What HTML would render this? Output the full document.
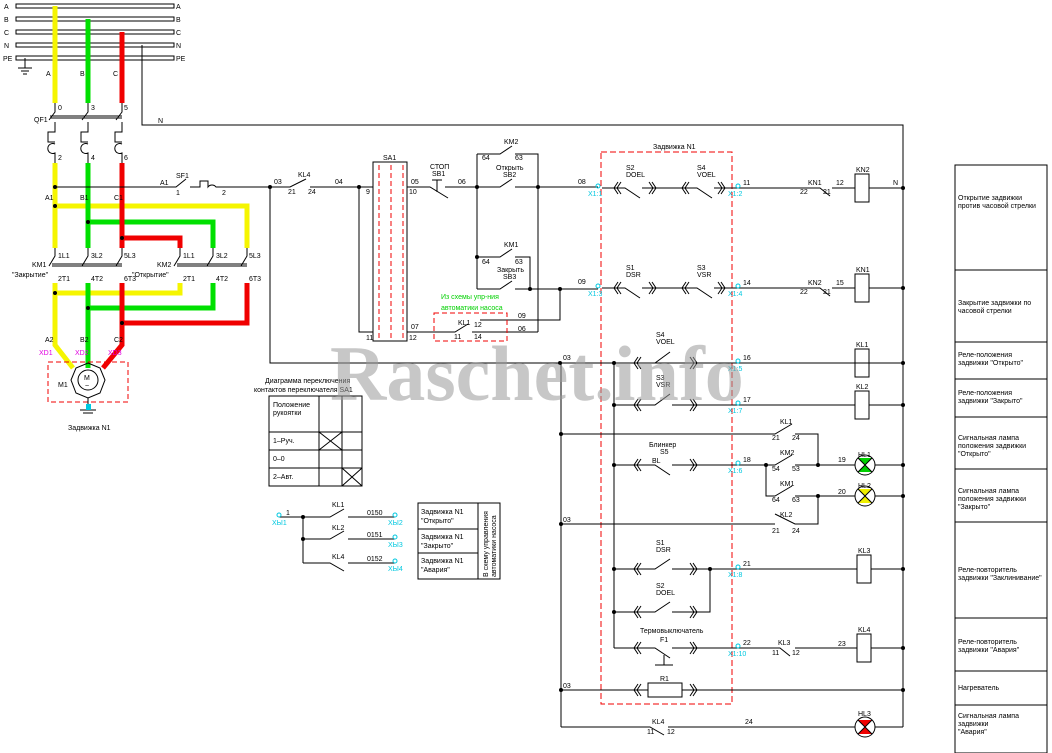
<!DOCTYPE html>
<html><head><meta charset="utf-8"><style>
html,body{margin:0;padding:0;background:#fff}
svg{display:block}
text{font-family:"Liberation Sans","DejaVu Sans",sans-serif;font-size:7px;fill:#000}
.c{fill:#00c8e0}.m{fill:#e000e0}.g{fill:#00d000}
</style></head><body>
<svg width="1052" height="753" viewBox="0 0 1052 753" xmlns="http://www.w3.org/2000/svg">
<g stroke="#000" stroke-width="1" fill="none">
<!-- buses -->
<rect x="16" y="4" width="158" height="4"/><rect x="16" y="17" width="158" height="4"/><rect x="16" y="30" width="158" height="4"/><rect x="16" y="43" width="158" height="4"/><rect x="16" y="56" width="158" height="4"/>
<path d="M25 58V68M18 68H32M21 71H29M23 74H27"/>
<path d="M142 45V125H903V727"/>
</g>
<g font-size="7">
<text x="4" y="9">A</text><text x="4" y="22">B</text><text x="4" y="35">C</text><text x="4" y="48">N</text><text x="3" y="61">PE</text>
<text x="176" y="9">A</text><text x="176" y="22">B</text><text x="176" y="35">C</text><text x="176" y="48">N</text><text x="176" y="61">PE</text>
<text x="46" y="76">A</text><text x="80" y="76">B</text><text x="113" y="76">C</text><text x="158" y="123">N</text>
</g>
<!-- phase colors -->
<g stroke-width="5" fill="none">
<path stroke="#f5f500" d="M55 6V103M55 163V248M55 206H247V248M180 283V293H55M55 283V345L73 368"/>
<path stroke="#00e000" d="M88 19V103M88 163V248M88 222H213V248M213 283V308H88M88 283V368"/>
<path stroke="#f00000" d="M122 32V103M122 163V248M122 238H180V248M247 283V323H122M122 283V345L103 368"/>
</g>
<g stroke="#000" stroke-width="1" fill="none">
<!-- QF1 -->
<path d="M55 103V112L49 120M55 122V132H48V142H55M55 144A5 5 0 1 0 55 153V163"/>
<path d="M88 103V112L82 120M88 122V132H81V142H88M88 144A5 5 0 1 0 88 153V163"/>
<path d="M122 103V112L116 120M122 122V132H115V142H122M122 144A5 5 0 1 0 122 153V163"/>
<path d="M50 116H122M50 118H122"/>
<!-- KM contacts -->
<path d="M55 248V256L49 266M88 248V256L82 266M122 248V256L116 266M180 248V256L174 266M213 248V256L207 266M247 248V256L241 266"/>
<path d="M52 264H122M52 266H122M177 264H247M177 266H247"/>
<!-- motor -->
<rect x="48" y="362" width="80" height="40" stroke="#f00000" stroke-dasharray="5,3"/>
<path d="M88 363L100 368L105 380L100 393L88 398L76 393L71 380L76 368Z"/>
<circle cx="88" cy="380" r="10"/>
<path d="M88 398V410M80 410H96M83 413H93"/>
<!-- SF1 line -->
<path d="M55 187H176L186 179M190 187H200V181H208V187A5 5 0 0 1 216 187H270M270 187V363H903M270 187H290L306 179M310 187H373"/>
<path d="M359 187V332H373"/>
<rect x="373" y="162" width="34" height="179"/>
<path d="M379 165V341M391 165V341M403 165V341" stroke="#f00000" stroke-dasharray="5,3"/>
<path d="M407 187H430L448 198M445 187H477M437 180V192M432 180H442M437 176H437"/>
<path d="M477 154H500L512 146M515 154H538V332M477 154V289M477 187H500L512 179M515 187H598M477 257H500L512 249M515 257H530V289M477 289H500L512 281M515 289H598"/>
<path d="M560 289V320H480M407 332H455L468 324M472 332H538"/>
<rect x="434" y="313" width="73" height="28" stroke="#f00000" stroke-dasharray="5,3"/>
<!-- right area -->
<rect x="601" y="152" width="131" height="552" stroke="#f00000" stroke-dasharray="6,3"/>
<path d="M602 188H625L640 198M642 188H697L712 198M714 188H820L830 196M832 188H855M869 188H903"/>
<rect x="855" y="174" width="14" height="28"/>
<path d="M602 288H625L640 298M642 288H697L712 298M714 288H820L830 296M832 288H855M869 288H903"/>
<rect x="855" y="274" width="14" height="28"/>
<path d="M560 363H655L670 352M672 363H855M869 363"/>
<rect x="855" y="349" width="14" height="28"/>
<path d="M614 363V648M614 405H655L670 394M672 405H855M869 405H903"/>
<rect x="855" y="391" width="14" height="28"/>
<path d="M561 363V727M561 434H775L792 424M795 434H818V465M614 465H655L670 475M672 465H775L792 455M795 465H855M875 465H903M766 465V496H775L792 486M795 496H855M875 496H903M818 496V524H795L775 514M775 524H561"/>
<path d="M614 569H655L670 559M672 569H857M871 569H903M614 612H655L670 602M672 612H710V569"/>
<rect x="857" y="555" width="14" height="28"/>
<path d="M614 648H655L670 658M672 648H780L790 656M795 648H857M871 648H903M664 655V665H655M664 665H673"/>
<rect x="857" y="634" width="14" height="28"/>
<path d="M561 690H648M682 690H903"/><rect x="648" y="683" width="34" height="14"/>
<path d="M561 727H650L664 735M668 727H855M875 727H903"/>
<!-- chevrons -->
<g>
<path d="M618 182L614 188L618 194M621 182L617 188L621 194M649 182L653 188L649 194M652 182L656 188L652 194M686 182L682 188L686 194M689 182L685 188L689 194M718 182L722 188L718 194M721 182L725 188L721 194"/>
<path d="M618 282L614 288L618 294M621 282L617 288L621 294M649 282L653 288L649 294M652 282L656 288L652 294M686 282L682 288L686 294M689 282L685 288L689 294M718 282L722 288L718 294M721 282L725 288L721 294"/>
<path d="M638 357L634 363L638 369M641 357L637 363L641 369M690 357L694 363L690 369M693 357L697 363L693 369"/>
<path d="M638 399L634 405L638 411M641 399L637 405L641 411M690 399L694 405L690 411M693 399L697 405L693 411"/>
<path d="M638 459L634 465L638 471M641 459L637 465L641 471M690 459L694 465L690 471M693 459L697 465L693 471"/>
<path d="M638 563L634 569L638 575M641 563L637 569L641 575M690 563L694 569L690 575M693 563L697 569L693 575"/>
<path d="M638 606L634 612L638 618M641 606L637 612L641 618M690 606L694 612L690 618M693 606L697 612L693 618"/>
<path d="M638 642L634 648L638 654M641 642L637 648L641 654M690 642L694 648L690 654M693 642L697 648L693 654"/>
<path d="M638 684L634 690L638 696M641 684L637 690L641 696M690 684L694 690L690 696M693 684L697 690L693 696"/>
</g>
<!-- lamps -->
<circle cx="865" cy="465" r="10"/><circle cx="865" cy="496" r="10"/><circle cx="865" cy="727" r="10"/>
<!-- table -->
<rect x="269" y="396" width="93" height="90"/>
<path d="M269 432H362M269 450H362M269 468H362M319 396V486M342 396V486M319 432L342 450M342 432L319 450M342 468L362 486M362 468L342 486"/>
<!-- bottom-left -->
<path d="M279 517H330L344 509M348 517H395M303 517V563M303 539H330L344 531M348 539H395M303 563H330L344 571M348 563H395"/>
<rect x="418" y="503" width="82" height="76"/><path d="M478 503V579M418 529H478M418 553H478"/>
<!-- right panel -->
<rect x="955" y="165" width="92" height="588"/>
<path d="M955 270H1047M955 342H1047M955 379H1047M955 417H1047M955 469H1047M955 522H1047M955 618H1047M955 671H1047M955 705H1047"/>
</g>
<!-- lamp fills -->
<path d="M858 458L872 458L865 465Z M858 472L872 472L865 465Z" fill="#00d000"/>
<path d="M858 489L872 489L865 496Z M858 503L872 503L865 496Z" fill="#f0f000"/>
<path d="M858 720L872 720L865 727Z M858 734L872 734L865 727Z" fill="#f00000"/>
<path d="M858 458L872 472M872 458L858 472M858 489L872 503M872 489L858 503M858 720L872 734M872 720L858 734" stroke="#000"/>
<!-- dots -->
<g fill="#000">
<circle cx="55" cy="187" r="2"/><circle cx="55" cy="206" r="2"/><circle cx="88" cy="222" r="2"/><circle cx="122" cy="238" r="2"/><circle cx="55" cy="293" r="2"/><circle cx="88" cy="308" r="2"/><circle cx="122" cy="323" r="2"/>
<circle cx="270" cy="187" r="2"/><circle cx="359" cy="187" r="2"/><circle cx="477" cy="187" r="2"/><circle cx="538" cy="187" r="2"/><circle cx="477" cy="257" r="2"/><circle cx="530" cy="289" r="2"/><circle cx="560" cy="289" r="2"/><circle cx="560" cy="363" r="2"/>
<circle cx="903" cy="188" r="2"/><circle cx="903" cy="288" r="2"/><circle cx="903" cy="363" r="2"/><circle cx="903" cy="405" r="2"/><circle cx="903" cy="465" r="2"/><circle cx="903" cy="496" r="2"/><circle cx="903" cy="569" r="2"/><circle cx="903" cy="648" r="2"/><circle cx="903" cy="690" r="2"/>
<circle cx="614" cy="363" r="2"/><circle cx="614" cy="405" r="2"/><circle cx="561" cy="434" r="2"/><circle cx="614" cy="465" r="2"/><circle cx="766" cy="465" r="2"/><circle cx="818" cy="465" r="2"/><circle cx="818" cy="496" r="2"/><circle cx="561" cy="524" r="2"/><circle cx="614" cy="569" r="2"/><circle cx="710" cy="569" r="2"/><circle cx="614" cy="612" r="2"/><circle cx="561" cy="690" r="2"/><circle cx="303" cy="517" r="2"/><circle cx="303" cy="539" r="2"/>
</g>
<!-- cyan terminal circles -->
<g stroke="#00c8e0" fill="none">
<circle cx="598" cy="186" r="2"/><circle cx="738" cy="186" r="2"/><circle cx="598" cy="286" r="2"/><circle cx="738" cy="286" r="2"/><circle cx="738" cy="361" r="2"/><circle cx="738" cy="403" r="2"/><circle cx="738" cy="463" r="2"/><circle cx="738" cy="567" r="2"/><circle cx="738" cy="646" r="2"/>
<circle cx="279" cy="515" r="2"/><circle cx="395" cy="515" r="2"/><circle cx="395" cy="537" r="2"/><circle cx="395" cy="561" r="2"/>
</g>
<rect x="86" y="404" width="5" height="6" fill="#00c8e0"/>
<!-- labels -->
<g font-size="6">
<text x="34" y="122">QF1</text><text x="58" y="110">0</text><text x="91" y="110">3</text><text x="124" y="110">5</text>
<text x="58" y="160">2</text><text x="91" y="160">4</text><text x="124" y="160">6</text>
<text x="45" y="200">A1</text><text x="80" y="200">B1</text><text x="114" y="200">C1</text>
<text x="45" y="342">A2</text><text x="80" y="342">B2</text><text x="114" y="342">C2</text>
<text x="58" y="258">1L1</text><text x="91" y="258">3L2</text><text x="124" y="258">5L3</text><text x="183" y="258">1L1</text><text x="216" y="258">3L2</text><text x="249" y="258">5L3</text>
<text x="58" y="281">2T1</text><text x="91" y="281">4T2</text><text x="124" y="281">6T3</text><text x="183" y="281">2T1</text><text x="216" y="281">4T2</text><text x="249" y="281">6T3</text>
<text x="32" y="267">KM1</text><text x="12" y="277">"Закрытие"</text><text x="157" y="267">KM2</text><text x="132" y="277">"Открытие"</text>
<text x="39" y="355" class="m">XD1</text><text x="75" y="355" class="m">XD2</text><text x="108" y="355" class="m">XD3</text>
<text x="58" y="387">M1</text><text x="84" y="380">M</text><text x="85" y="388">~</text>
<text x="68" y="430">Задвижка N1</text>
<text x="160" y="185">A1</text><text x="176" y="178">SF1</text><text x="176" y="195">1</text><text x="222" y="195">2</text>
<text x="274" y="184">03</text><text x="298" y="177">KL4</text><text x="288" y="194">21</text><text x="308" y="194">24</text><text x="335" y="184">04</text>
<text x="383" y="160">SA1</text><text x="366" y="194">9</text><text x="366" y="340">11</text><text x="409" y="340">12</text><text x="409" y="194">10</text>
<text x="411" y="184">05</text><text x="411" y="329">07</text><text x="430" y="169">СТОП</text><text x="432" y="176">SB1</text><text x="458" y="184">06</text>
<text x="504" y="144">KM2</text><text x="482" y="160">64</text><text x="515" y="160">63</text><text x="496" y="170">Открыть</text><text x="503" y="177">SB2</text>
<text x="504" y="247">KM1</text><text x="482" y="264">64</text><text x="515" y="264">63</text><text x="497" y="272">Закрыть</text><text x="503" y="279">SB3</text>
<text x="441" y="299" class="g">Из схемы упр-ния</text><text x="441" y="310" class="g">автоматики насоса</text>
<text x="458" y="325">KL1</text><text x="474" y="327">12</text><text x="454" y="339">11</text><text x="474" y="339">14</text>
<text x="518" y="318">09</text><text x="518" y="331">06</text>
<text x="578" y="184">08</text><text x="578" y="284">09</text><text x="563" y="360">03</text>
<text x="588" y="196" class="c">X1:1</text><text x="588" y="296" class="c">X1:3</text>
<text x="728" y="196" class="c">X1:2</text><text x="728" y="296" class="c">X1:4</text><text x="728" y="371" class="c">X1:5</text><text x="728" y="413" class="c">X1:7</text><text x="728" y="473" class="c">X1:6</text><text x="728" y="577" class="c">X1:8</text><text x="728" y="656" class="c">X1:10</text>
<text x="653" y="149">Задвижка N1</text>
<text x="626" y="170">S2</text><text x="626" y="177">DOEL</text><text x="697" y="170">S4</text><text x="697" y="177">VOEL</text>
<text x="626" y="270">S1</text><text x="626" y="277">DSR</text><text x="697" y="270">S3</text><text x="697" y="277">VSR</text>
<text x="656" y="337">S4</text><text x="656" y="344">VOEL</text><text x="656" y="380">S3</text><text x="656" y="387">VSR</text>
<text x="649" y="447">Блинкер</text><text x="660" y="454">S5</text><text x="652" y="463">BL</text>
<text x="656" y="545">S1</text><text x="656" y="552">DSR</text><text x="656" y="588">S2</text><text x="656" y="595">DOEL</text>
<text x="640" y="633">Термовыключатель</text><text x="660" y="642">F1</text><text x="660" y="681">R1</text>
<text x="743" y="185">11</text><text x="743" y="285">14</text><text x="743" y="360">16</text><text x="743" y="402">17</text><text x="743" y="462">18</text><text x="743" y="566">21</text><text x="743" y="645">22</text>
<text x="808" y="185">KN1</text><text x="800" y="194">22</text><text x="823" y="194">21</text><text x="836" y="185">12</text><text x="893" y="185">N</text>
<text x="808" y="285">KN2</text><text x="800" y="294">22</text><text x="823" y="294">21</text><text x="836" y="285">15</text>
<text x="856" y="172">KN2</text><text x="856" y="272">KN1</text><text x="856" y="347">KL1</text><text x="856" y="389">KL2</text><text x="858" y="553">KL3</text><text x="858" y="632">KL4</text>
<text x="780" y="424">KL1</text><text x="772" y="440">21</text><text x="792" y="440">24</text>
<text x="780" y="455">KM2</text><text x="772" y="471">54</text><text x="792" y="471">53</text><text x="838" y="462">19</text>
<text x="780" y="486">KM1</text><text x="772" y="502">64</text><text x="792" y="502">63</text><text x="838" y="494">20</text>
<text x="780" y="517">KL2</text><text x="772" y="533">21</text><text x="792" y="533">24</text>
<text x="563" y="522">03</text><text x="563" y="688">03</text>
<text x="778" y="645">KL3</text><text x="772" y="655">11</text><text x="792" y="655">12</text><text x="838" y="646">23</text>
<text x="858" y="457">HL1</text><text x="858" y="488">HL2</text><text x="858" y="716">HL3</text>
<text x="652" y="724">KL4</text><text x="647" y="734">11</text><text x="667" y="734">12</text><text x="745" y="724">24</text>
<text x="265" y="383">Диаграмма переключения</text><text x="254" y="392">контактов переключателя SA1</text>
<text x="273" y="407">Положение</text><text x="273" y="415">рукоятки</text>
<text x="273" y="443">1–Руч.</text><text x="273" y="461">0–0</text><text x="273" y="479">2–Авт.</text>
<text x="286" y="515">1</text><text x="332" y="507">KL1</text><text x="332" y="530">KL2</text><text x="332" y="559">KL4</text>
<text x="367" y="515">0150</text><text x="367" y="537">0151</text><text x="367" y="561">0152</text>
<text x="272" y="525" class="c">XЫ1</text><text x="388" y="525" class="c">XЫ2</text><text x="388" y="547" class="c">XЫ3</text><text x="388" y="571" class="c">XЫ4</text>
<text x="421" y="514">Задвижка N1</text><text x="421" y="523">"Открыто"</text><text x="421" y="539">Задвижка N1</text><text x="421" y="548">"Закрыто"</text><text x="421" y="563">Задвижка N1</text><text x="421" y="572">"Авария"</text>
<text transform="translate(488,577) rotate(-90)">В схему управления</text><text transform="translate(496,577) rotate(-90)">автоматики насоса</text>
<text x="958" y="200">Открытие задвижки</text><text x="958" y="208">против часовой стрелки</text>
<text x="958" y="305">Закрытие задвижки по</text><text x="958" y="313">часовой стрелки</text>
<text x="958" y="357">Реле-положения</text><text x="958" y="365">задвижки "Открыто"</text>
<text x="958" y="395">Реле-положения</text><text x="958" y="403">задвижки "Закрыто"</text>
<text x="958" y="440">Сигнальная лампа</text><text x="958" y="448">положения задвижки</text><text x="958" y="456">"Открыто"</text>
<text x="958" y="493">Сигнальная лампа</text><text x="958" y="501">положения задвижки</text><text x="958" y="509">"Закрыто"</text>
<text x="958" y="572">Реле-повторитель</text><text x="958" y="580">задвижки "Заклинивание"</text>
<text x="958" y="644">Реле-повторитель</text><text x="958" y="652">задвижки "Авария"</text>
<text x="958" y="690">Нагреватель</text>
<text x="958" y="718">Сигнальная лампа</text><text x="958" y="726">задвижки</text><text x="958" y="734">"Авария"</text>
</g>
<text x="330" y="400" style="font-family:'Liberation Serif',serif;font-size:78px;font-weight:bold;fill:#999;fill-opacity:0.55">Raschet.info</text>
</svg>
</body></html>
